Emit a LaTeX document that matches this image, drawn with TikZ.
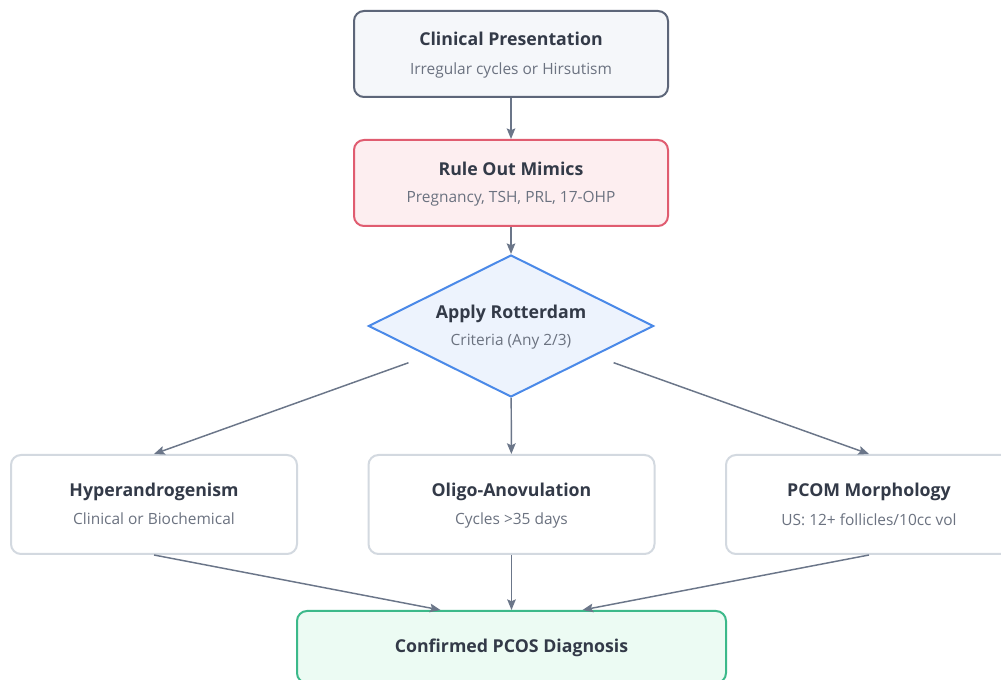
\documentclass[tikz,border=0pt]{standalone}
\usepackage{fontspec}
\setmainfont{Open Sans}
\usetikzlibrary{arrows.meta,shapes.geometric}
\definecolor{edgegray}{HTML}{6B7689}
\definecolor{titlecol}{HTML}{333A48}
\definecolor{subcol}{HTML}{6B7280}
\definecolor{slateline}{HTML}{5D6679}
\definecolor{slatefill}{HTML}{F5F7FA}
\definecolor{redline}{HTML}{E05C70}
\definecolor{redfill}{HTML}{FDEEF0}
\definecolor{blueline}{HTML}{4A89E8}
\definecolor{bluefill}{HTML}{EDF3FD}
\definecolor{grayline}{HTML}{D3D9E0}
\definecolor{greenline}{HTML}{3CB98A}
\definecolor{greenfill}{HTML}{ECFBF3}

\begin{document}
\begin{tikzpicture}[x=0.75pt,y=-0.75pt,
  box/.style={draw,rounded corners=7.5pt,line width=1.5pt,align=center,
              text=titlecol,inner sep=0pt},
  arr/.style={draw=edgegray,line width=1.1pt,
              -{Stealth[length=8pt,width=6.5pt,inset=1.5pt]}}]
  \useasboundingbox (0,0) rectangle (1001,680);
  \clip (0,0) rectangle (1001,680);
  \fill[white] (0,0) rectangle (1001,680);
  %
  \node[box,draw=slateline,fill=slatefill,minimum width=235.5pt,minimum height=64.5pt]
       (clin) at (511,54)
       {\fontsize{13.3}{15}\selectfont\bfseries\rule{0pt}{12pt}Clinical Presentation\vphantom{g}\\[8.5pt]
        \fontsize{11.6}{14}\selectfont\color{subcol}Irregular cycles or Hirsutism\vphantom{Ag}};
  \node[box,draw=redline,fill=redfill,minimum width=235.5pt,minimum height=64.5pt]
       (rule) at (511,183)
       {\fontsize{13.3}{15}\selectfont\bfseries\rule{0pt}{12pt}Rule Out Mimics\vphantom{g}\\[8.5pt]
        \fontsize{11.6}{14}\selectfont\color{subcol}Pregnancy, TSH, PRL, 17-OHP\vphantom{Ag}};
  \node[box,diamond,aspect=2,rounded corners=0pt,draw=blueline,fill=bluefill,
        minimum width=213.75pt,minimum height=106.5pt]
       (rot) at (511,326)
       {\fontsize{13.3}{15}\selectfont\bfseries\rule{0pt}{12pt}Apply Rotterdam\vphantom{g}\\[8.5pt]
        \fontsize{11.6}{14}\selectfont\color{subcol}Criteria (Any 2/3)\vphantom{Ag}};
  %
  \node[box,draw=grayline,fill=white,minimum width=214.5pt,minimum height=74.25pt]
       (hyper) at (154,504.5)
       {\fontsize{13.3}{15}\selectfont\bfseries\rule{0pt}{12pt}Hyperandrogenism\vphantom{g}\\[8.5pt]
        \fontsize{11.6}{14}\selectfont\color{subcol}Clinical or Biochemical\vphantom{Ag}};
  \node[box,draw=grayline,fill=white,minimum width=214.5pt,minimum height=74.25pt]
       (oligo) at (511.5,504.5)
       {\fontsize{13.3}{15}\selectfont\bfseries\rule{0pt}{12pt}Oligo-Anovulation\vphantom{g}\\[8.5pt]
        \fontsize{11.6}{14}\selectfont\color{subcol}Cycles >35 days\vphantom{Ag}};
  \node[box,draw=grayline,fill=white,minimum width=214.5pt,minimum height=74.25pt]
       (pcom) at (869,504.5)
       {\fontsize{13.3}{15}\selectfont\bfseries\rule{0pt}{12pt}PCOM Morphology\vphantom{g}\\[8.5pt]
        \fontsize{11.6}{14}\selectfont\color{subcol}US: 12+ follicles/10cc vol\vphantom{Ag}};
  %
  \node[box,draw=greenline,fill=greenfill,minimum width=321.75pt,minimum height=54pt]
       (diag) at (511.5,647)
       {\fontsize{13.3}{15}\selectfont\bfseries\rule{0pt}{12pt}Confirmed PCOS Diagnosis\vphantom{g}};
  %
  \draw[arr] (clin) -- (rule);
  \draw[arr] (rule) -- (rot);
  \draw[arr,shorten <=15pt] (rot) -- (hyper.north);
  \draw[arr] (rot) -- (oligo);
  \draw[arr,shorten <=15pt] (rot) -- (pcom.north);
  %
  \draw[arr] (hyper.south) -- ([xshift=-53.25pt]diag.north);
  \draw[arr] (oligo) -- (diag);
  \draw[arr] (pcom.south) -- ([xshift=53.25pt]diag.north);
\end{tikzpicture}
\end{document}
